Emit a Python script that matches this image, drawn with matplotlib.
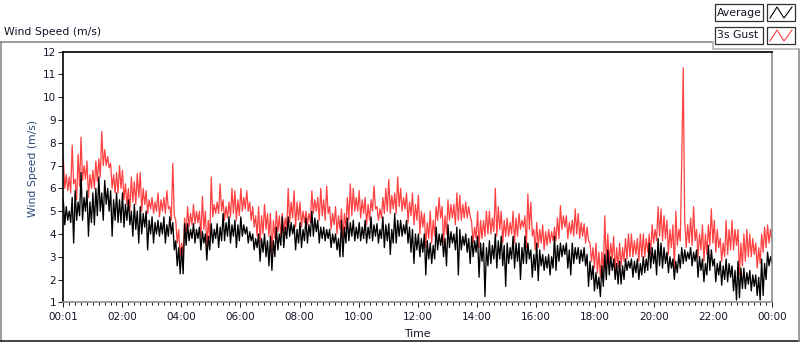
import numpy as np
import matplotlib
matplotlib.use("Agg")
import matplotlib.pyplot as plt
from matplotlib.lines import Line2D
from matplotlib.patches import Rectangle

# trace readings, 3 minutes apart, 00:01 -> 00:00 (m/s)
avg = [
    5.5, 4.4, 5.2, 4.6, 5.0, 4.5, 5.6, 3.6, 5.9, 4.6, 5.4, 4.8, 6.7, 4.6, 5.6, 5.0, 5.9, 3.9, 5.4, 4.5,
    5.8, 4.4, 6.0, 4.8, 6.5, 5.0, 5.8, 4.6, 6.35, 5.3, 6.0, 5.0, 5.9, 3.9, 5.5, 4.6, 5.8, 4.5, 5.5, 4.5,
    5.8, 4.3, 5.3, 4.6, 5.5, 4.4, 5.0, 3.9, 5.3, 4.2, 5.0, 3.6, 5.2, 4.0, 4.9, 4.3, 5.0, 3.3, 4.6, 4.0,
    4.75, 3.6, 4.5, 4.0, 4.6, 3.9, 4.5, 4.0, 4.75, 3.6, 4.4, 3.9, 4.75, 4.0, 4.5, 3.3, 3.7, 2.6, 3.4, 2.25,
    3.4, 2.25, 4.45, 3.5, 4.45, 3.7, 4.2, 3.8, 4.45, 3.6, 4.2, 3.8, 4.3, 3.3, 4.1, 3.6, 4.0, 2.85, 3.9, 3.3,
    4.45, 3.6, 4.2, 3.8, 4.45, 3.4, 4.3, 3.7, 4.9, 3.7, 4.5, 3.9, 4.75, 3.6, 4.4, 3.9, 4.6, 3.4, 4.4, 3.7,
    4.75, 3.9, 4.4, 4.0, 4.3, 3.6, 4.1, 3.7, 4.0, 3.3, 3.8, 3.4, 4.0, 2.8, 3.8, 3.2, 4.0, 3.0, 3.7, 2.6,
    3.9, 2.4, 3.7, 3.0, 4.3, 3.3, 4.0, 3.5, 4.75, 3.4, 4.3, 3.8, 4.75, 3.9, 4.5, 4.0, 4.4, 3.3, 4.2, 3.6,
    4.5, 3.4, 4.2, 3.7, 4.7, 3.6, 4.4, 3.9, 5.0, 3.9, 4.7, 4.1, 4.6, 3.6, 4.3, 3.8, 4.3, 3.7, 4.2, 3.8,
    4.2, 3.4, 4.0, 3.6, 4.0, 3.3, 3.8, 3.0, 4.6, 3.0, 4.3, 3.6, 4.7, 3.7, 4.5, 3.9, 4.6, 3.7, 4.3, 3.8,
    4.5, 3.7, 4.3, 3.8, 4.6, 3.6, 4.3, 3.8, 4.75, 3.7, 4.4, 3.9, 4.45, 3.6, 4.2, 3.8, 4.75, 3.4, 4.4, 3.7,
    4.45, 3.1, 4.2, 3.6, 4.9, 3.6, 4.6, 3.9, 4.6, 3.9, 4.4, 4.0, 4.6, 3.6, 4.3, 3.2, 4.2, 2.7, 4.0, 3.3,
    4.0, 3.0, 3.8, 3.2, 4.0, 2.2, 3.7, 2.9, 3.6, 2.7, 3.5, 2.9, 4.3, 3.3, 4.0, 3.5, 4.0, 3.0, 3.8, 2.6,
    4.4, 3.4, 4.1, 3.6, 4.0, 3.3, 4.3, 2.2, 4.2, 3.3, 3.9, 3.5, 4.0, 3.2, 3.8, 2.7, 3.9, 3.0, 3.7, 3.2,
    3.9, 2.1, 3.6, 2.8, 3.6, 1.25, 3.4, 2.6, 3.7, 2.7, 3.5, 2.9, 4.0, 2.5, 3.7, 2.9, 3.9, 2.6, 3.5, 1.7,
    3.6, 2.7, 3.4, 2.9, 3.9, 2.5, 3.6, 2.8, 3.6, 2.0, 3.4, 2.7, 3.9, 2.7, 3.6, 2.9, 3.3, 2.1, 3.1, 2.4,
    3.6, 1.95, 3.3, 2.6, 3.1, 2.4, 3.0, 2.5, 3.1, 2.2, 3.0, 2.5, 3.9, 2.4, 3.5, 2.8, 3.6, 3.0, 3.5, 3.1,
    3.6, 2.5, 3.3, 2.2, 3.6, 2.7, 3.4, 2.9, 3.4, 2.7, 3.3, 2.8, 3.4, 2.6, 3.1, 1.7, 2.8, 2.0, 2.6, 1.5,
    2.3, 1.6, 2.1, 1.25, 2.6, 1.7, 3.1, 2.0, 3.3, 2.2, 3.0, 2.4, 2.9, 2.0, 2.7, 1.8, 2.8, 1.8, 2.6, 2.0,
    2.9, 2.4, 2.8, 2.5, 2.9, 2.1, 2.8, 2.3, 2.9, 2.0, 2.7, 2.2, 3.0, 2.3, 2.9, 2.4, 3.6, 2.5, 3.4, 2.7,
    3.3, 2.2, 3.8, 2.6, 3.6, 2.5, 3.4, 2.7, 3.2, 2.3, 3.0, 2.5, 2.9, 2.0, 2.8, 2.3, 3.1, 2.5, 3.4, 2.7,
    3.3, 2.8, 3.2, 2.9, 3.4, 2.6, 3.2, 2.8, 3.3, 2.1, 3.0, 2.4, 2.9, 1.9, 2.7, 2.2, 3.5, 2.4, 3.3, 2.6,
    2.9, 1.9, 2.7, 2.2, 2.8, 1.75, 2.6, 2.0, 2.9, 1.9, 2.7, 2.1, 2.6, 1.5, 2.4, 1.1, 2.8, 1.2, 2.5, 1.6,
    2.5, 1.6, 2.3, 1.8, 2.4, 1.5, 2.2, 1.7, 2.2, 1.3, 2.1, 1.1, 2.9, 1.3, 2.7, 2.0, 3.2, 2.6, 3.0, 2.7,
]
gust = [
    7.3, 6.0, 6.6, 5.9, 6.5, 5.8, 7.9, 6.2, 6.4, 5.5, 7.5, 6.1, 8.25, 6.35, 7.0, 6.4, 7.2, 5.6, 6.6, 6.0,
    6.8, 6.0, 7.2, 6.3, 7.3, 6.5, 8.5, 7.0, 7.7, 7.0, 7.4, 6.9, 7.1, 6.0, 6.6, 5.8, 6.7, 5.8, 7.0, 6.0,
    6.8, 5.5, 6.2, 5.3, 6.0, 5.0, 6.5, 5.4, 6.3, 5.3, 6.65, 5.6, 6.7, 5.0, 6.0, 5.3, 5.9, 4.9, 5.5, 5.1,
    5.6, 4.9, 5.4, 5.0, 5.8, 4.75, 5.5, 5.0, 5.6, 4.9, 5.9, 5.1, 5.2, 4.6, 7.1, 4.8, 4.6, 3.6, 4.2, 3.0,
    3.6, 3.1, 4.7, 3.9, 5.2, 4.3, 4.9, 4.4, 5.3, 4.45, 5.0, 4.5, 5.0, 3.9, 5.65, 4.2, 5.0, 3.4, 4.6, 3.8,
    6.5, 4.75, 5.3, 4.9, 5.4, 4.9, 6.2, 5.0, 5.5, 4.6, 5.2, 4.7, 5.4, 4.75, 6.0, 4.9, 5.9, 4.6, 5.5, 4.8,
    6.0, 5.0, 5.6, 5.1, 5.9, 5.0, 5.4, 4.6, 5.2, 4.3, 4.8, 3.9, 5.2, 3.6, 4.8, 4.0, 5.3, 4.2, 4.9, 3.9,
    4.9, 3.1, 4.6, 3.8, 5.0, 4.1, 4.8, 3.9, 4.9, 4.0, 4.7, 4.2, 6.0, 4.5, 5.4, 4.7, 5.9, 4.3, 5.4, 4.6,
    5.4, 4.3, 5.0, 4.5, 5.0, 4.4, 4.9, 4.5, 5.9, 4.9, 5.5, 5.0, 5.6, 4.6, 6.0, 4.8, 5.5, 4.6, 6.1, 4.9,
    5.2, 4.2, 4.9, 4.4, 5.2, 4.0, 4.8, 4.2, 5.1, 3.8, 4.9, 4.2, 5.6, 4.6, 6.2, 4.8, 6.0, 5.0, 5.6, 5.0,
    5.9, 4.7, 5.5, 4.9, 5.6, 4.4, 5.3, 4.6, 5.5, 5.0, 6.1, 5.1, 5.2, 4.6, 5.1, 4.7, 5.6, 4.9, 6.0, 5.0,
    6.4, 4.9, 5.7, 5.1, 5.8, 4.9, 6.5, 5.2, 6.0, 5.0, 5.6, 5.1, 5.8, 4.5, 5.4, 4.8, 5.8, 4.4, 5.3, 4.6,
    5.7, 4.0, 5.0, 4.3, 4.9, 3.4, 4.5, 3.8, 5.0, 3.6, 4.6, 3.9, 5.2, 4.6, 5.6, 4.7, 5.2, 3.6, 4.8, 4.0,
    5.5, 4.6, 5.3, 4.7, 5.3, 4.4, 5.8, 4.6, 5.7, 4.6, 5.3, 4.7, 5.4, 4.7, 5.2, 4.8, 4.5, 3.6, 4.3, 3.8,
    5.0, 3.4, 4.6, 3.8, 4.6, 3.9, 5.0, 4.0, 5.0, 4.0, 4.7, 4.1, 6.0, 3.9, 5.2, 4.2, 5.0, 3.6, 4.6, 3.9,
    4.7, 3.9, 4.5, 4.0, 5.0, 3.6, 4.7, 3.9, 4.9, 4.2, 4.6, 4.3, 4.8, 3.4, 5.75, 4.2, 5.4, 3.9, 4.2, 3.3,
    4.5, 3.4, 4.2, 3.6, 4.4, 3.3, 4.1, 3.5, 4.2, 3.6, 4.1, 3.7, 4.3, 3.7, 4.7, 3.8, 5.25, 4.2, 4.8, 4.3,
    4.8, 3.8, 4.5, 4.0, 4.6, 3.9, 5.1, 4.0, 4.9, 3.8, 4.5, 3.9, 4.45, 3.6, 4.3, 3.7, 3.6, 2.8, 3.4, 2.5,
    3.6, 2.3, 3.2, 2.1, 3.2, 2.3, 4.8, 2.6, 4.0, 2.7, 3.6, 2.9, 3.9, 2.3, 3.4, 2.5, 3.6, 2.6, 3.4, 2.8,
    3.8, 2.9, 4.0, 3.0, 4.0, 3.0, 3.7, 3.1, 3.8, 2.8, 4.0, 3.0, 4.0, 3.0, 3.8, 3.2, 4.0, 3.1, 4.4, 3.6,
    4.2, 3.7, 5.2, 3.9, 5.1, 3.7, 4.8, 3.8, 4.6, 3.1, 4.2, 3.4, 4.4, 2.5, 5.0, 3.5, 4.2, 3.7, 7.2, 11.3,
    4.6, 3.4, 4.4, 3.6, 4.7, 3.5, 5.2, 3.7, 4.2, 3.0, 4.0, 3.3, 4.4, 2.8, 4.0, 3.1, 4.4, 3.5, 5.1, 3.6,
    4.6, 3.2, 4.2, 3.4, 3.8, 2.8, 3.6, 3.0, 4.6, 3.1, 4.2, 3.3, 4.6, 3.3, 4.2, 3.5, 4.2, 2.2, 3.6, 2.6,
    4.0, 2.8, 4.2, 3.0, 4.0, 3.0, 3.8, 3.1, 3.6, 2.5, 3.4, 2.7, 4.0, 3.2, 4.3, 3.4, 4.4, 3.6, 4.2, 3.7,
]

time_ticks = [0, 2, 4, 6, 8, 10, 12, 14, 16, 18, 20, 22, 24]
time_labels = ["00:01", "02:00", "04:00", "06:00", "08:00", "10:00", "12:00",
               "14:00", "16:00", "18:00", "20:00", "22:00", "00:00"]
speed_ticks = list(range(1, 13))

W, H = 800, 342


def fx(x):
    return x / W


def fy(y):
    return 1 - y / H


t = np.linspace(0, 24, len(avg))

plt.rcParams['font.family'] = ['DejaVu Sans']
fig = plt.figure(figsize=(8, 3.42), dpi=100)
fig.patch.set_facecolor("white")

ax = fig.add_axes([fx(63.3), fy(302.3), fx(772 - 63.3), (302.3 - 51.7) / H])
ax.plot(t, gust, color="#ff4040", lw=0.9)
ax.plot(t, avg, color="black", lw=0.95)

ax.set_xlim(0, 24)
ax.set_ylim(1, 12)
ax.set_yticks(speed_ticks)
ax.set_xticks(time_ticks)
ax.set_xticklabels(time_labels)
ax.set_xticks(np.arange(0, 24.01, 0.2), minor=True)
ax.tick_params(axis="both", which="major", length=3.8, width=0.75, labelsize=7.5,
               labelcolor="#141428", color="#222222")
ax.tick_params(axis="x", which="major", pad=3.2)
ax.tick_params(axis="y", which="major", pad=1.5)
ax.tick_params(axis="x", which="minor", length=2.2, width=0.75, color="#222222")

for side in ("top", "left"):
    ax.spines[side].set_color("black")
    ax.spines[side].set_linewidth(1.2)
for side in ("bottom", "right"):
    ax.spines[side].set_color("#8c8c8c")
    ax.spines[side].set_linewidth(1.2)

ax.set_ylabel("Wind Speed (m/s)", fontsize=7.8, color="#2b4a7a")
ax.yaxis.set_label_coords((33 - 63.3) / (772 - 63.3), (302.3 - 168) / 250.6)
ax.yaxis.label.set_va("center")
ax.set_xlabel("Time", fontsize=7.8, color="#141428")
ax.xaxis.set_label_coords(0.5, -(334 - 302.3) / 250.6)
ax.xaxis.label.set_va("center")

# outer frame of the chart panel
frame = [((0, 712.5), (42.3, 42.3), "#8c8c8c"),
         ((1, 1), (42.3, 340.5), "#8c8c8c"),
         ((0, 800), (340.5, 340.5), "#222222"),
         ((799, 799), (49, 340.5), "#8c8c8c"),
         ((712.5, 799), (49, 49), "#b4b4b4"),
         ((712.5, 712.5), (42.3, 49), "#b4b4b4")]
for xs, ys, c in frame:
    fig.add_artist(Line2D([fx(v) for v in xs], [fy(v) for v in ys],
                          color=c, lw=1.2))

fig.text(fx(4), fy(32), "Wind Speed (m/s)", fontsize=7.8, color="#141428",
         va="center", ha="left")

# plot legend
legend_names = ["Average", "3s Gust"]
legend_colors = ["black", "#ff4040"]
for i, (name, c) in enumerate(zip(legend_names, legend_colors)):
    top = 4 + i * 23
    fig.add_artist(Rectangle((fx(715), fy(top + 17)), fx(48), 17 / H,
                             fill=False, ec="#303030", lw=0.9))
    fig.add_artist(Rectangle((fx(767), fy(top + 17)), fx(28), 17 / H,
                             fill=False, ec="#303030", lw=0.9))
    fig.text(fx(717), fy(top + 8.5), name, fontsize=7.8, color="#141428",
             va="center", ha="left")
    fig.add_artist(Line2D([fx(770), fx(777), fx(784), fx(792)],
                          [fy(top + 14), fy(top + 3), fy(top + 14), fy(top + 3)],
                          color=c, lw=0.8))

fig.savefig("out.png", dpi=100)
